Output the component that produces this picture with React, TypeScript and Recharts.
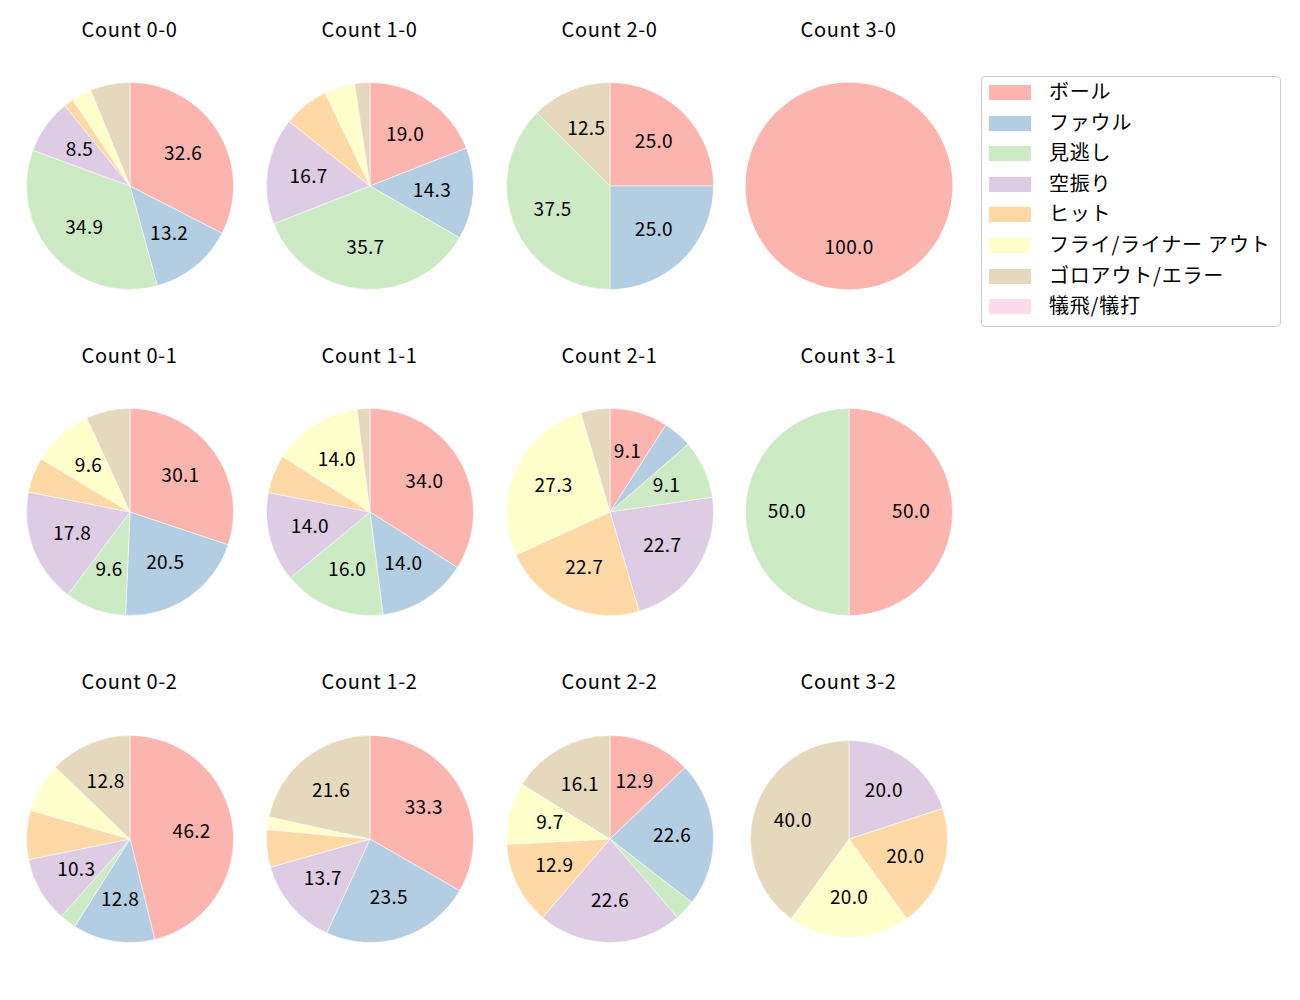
import React from 'react';
import { PieChart, Pie, Cell } from 'recharts';

const categories = [
  'ボール',
  'ファウル',
  '見逃し',
  '空振り',
  'ヒット',
  'フライ/ライナー アウト',
  'ゴロアウト/エラー',
  '犠飛/犠打',
];
const colors = ['#fbb4ae', '#b3cde3', '#ccebc5', '#decbe4', '#fed9a6', '#ffffcc', '#e5d8bd', '#fddaec'];

const titles = [
  'Count 0-0', 'Count 1-0', 'Count 2-0', 'Count 3-0',
  'Count 0-1', 'Count 1-1', 'Count 2-1', 'Count 3-1',
  'Count 0-2', 'Count 1-2', 'Count 2-2', 'Count 3-2',
];

// counts per category (same order as categories)
const count00 = [42, 17, 45, 11, 2, 4, 8, 0];
const count10 = [8, 6, 15, 7, 3, 2, 1, 0];
const count20 = [2, 2, 3, 0, 0, 0, 1, 0];
const count30 = [1, 0, 0, 0, 0, 0, 0, 0];
const count01 = [22, 15, 7, 13, 4, 7, 5, 0];
const count11 = [17, 7, 8, 7, 3, 7, 1, 0];
const count21 = [2, 1, 2, 5, 5, 6, 1, 0];
const count31 = [1, 0, 1, 0, 0, 0, 0, 0];
const count02 = [18, 5, 1, 4, 3, 3, 5, 0];
const count12 = [17, 12, 0, 7, 3, 1, 11, 0];
const count22 = [4, 7, 1, 7, 4, 3, 5, 0];
const count32 = [0, 0, 0, 1, 1, 1, 2, 0];

const allCounts = [
  count00, count10, count20, count30,
  count01, count11, count21, count31,
  count02, count12, count22, count32,
];

const FONT = '"Noto Sans CJK JP", "Noto Sans", sans-serif';
const colX = [129.5, 369.5, 609.5, 848.5];
const rowY = [185.5, 512, 838.5];
const titleY = [28.5, 354.5, 681];
const BOX = 240;

const RAD = Math.PI / 180;
const renderLabel = (props: any) => {
  const { cx, cy, midAngle, outerRadius, percent } = props;
  if (percent * 100 < 8) return null;
  const r = outerRadius * 0.6;
  const x = cx + r * Math.cos(-midAngle * RAD);
  const y = cy + r * Math.sin(-midAngle * RAD);
  return (
    <text
      x={x}
      y={y - 2.5}
      textAnchor="middle"
      dominantBaseline="central"
      fill="#000"
      fontSize={19}
      letterSpacing={0.3}
      fontFamily={FONT}
    >
      {(percent * 100).toFixed(1)}
    </text>
  );
};

function SmallPie({ idx }: { idx: number }) {
  const counts = allCounts[idx];
  const data = counts
    .map((v, i) => ({ name: categories[i], value: v, color: colors[i] }))
    .filter((d) => d.value > 0);
  const col = idx % 4;
  const row = Math.floor(idx / 4);
  const cx = colX[col];
  const cy = rowY[row];
  const radius = idx === 11 ? 98.5 : 103.5;
  const single = data.length === 1;
  return (
    <>
      <div
        style={{
          position: 'absolute',
          left: cx - 100,
          width: 200,
          top: titleY[row] - 14,
          height: 28,
          lineHeight: '28px',
          textAlign: 'center',
          fontFamily: FONT,
          fontSize: 20,
          letterSpacing: '0.6px',
          color: '#000',
        }}
      >
        {titles[idx]}
      </div>
      <div style={{ position: 'absolute', left: cx - BOX / 2, top: cy - BOX / 2, width: BOX, height: BOX }}>
        <PieChart width={BOX} height={BOX} margin={{ top: 0, right: 0, bottom: 0, left: 0 }}>
          <Pie
            data={data}
            dataKey="value"
            nameKey="name"
            cx={BOX / 2}
            cy={BOX / 2}
            outerRadius={radius}
            innerRadius={0}
            startAngle={90}
            endAngle={-270}
            stroke={single ? 'none' : '#ffffff'}
            strokeWidth={0.5}
            label={renderLabel}
            labelLine={false}
            isAnimationActive={false}
          >
            {data.map((d, i) => (
              <Cell key={i} fill={d.color} />
            ))}
          </Pie>
        </PieChart>
      </div>
    </>
  );
}

function LegendBox() {
  return (
    <div
      style={{
        position: 'absolute',
        left: 981,
        top: 76,
        width: 298,
        height: 249,
        border: '1px solid #cccccc',
        borderRadius: 4,
        background: '#fff',
        fontFamily: FONT,
      }}
    >
      {categories.map((c, i) => (
        <div key={c} style={{ position: 'absolute', left: 0, top: 15 + i * 30.6 - 15, height: 30, width: 298 }}>
          <div
            style={{
              position: 'absolute',
              left: 7,
              top: 8,
              width: 42,
              height: 15,
              background: colors[i],
            }}
          />
          <div
            style={{
              position: 'absolute',
              left: 67,
              top: -1,
              height: 30,
              lineHeight: '30px',
              fontSize: 20,
              letterSpacing: '0.8px',
              color: '#000',
              whiteSpace: 'nowrap',
            }}
          >
            {c}
          </div>
        </div>
      ))}
    </div>
  );
}

export default function App() {
  return (
    <div style={{ position: 'absolute', left: 0, top: 0, width: 1300, height: 1000, background: '#fff' }}>
      {titles.map((_, i) => (
        <SmallPie key={i} idx={i} />
      ))}
      <LegendBox />
    </div>
  );
}
